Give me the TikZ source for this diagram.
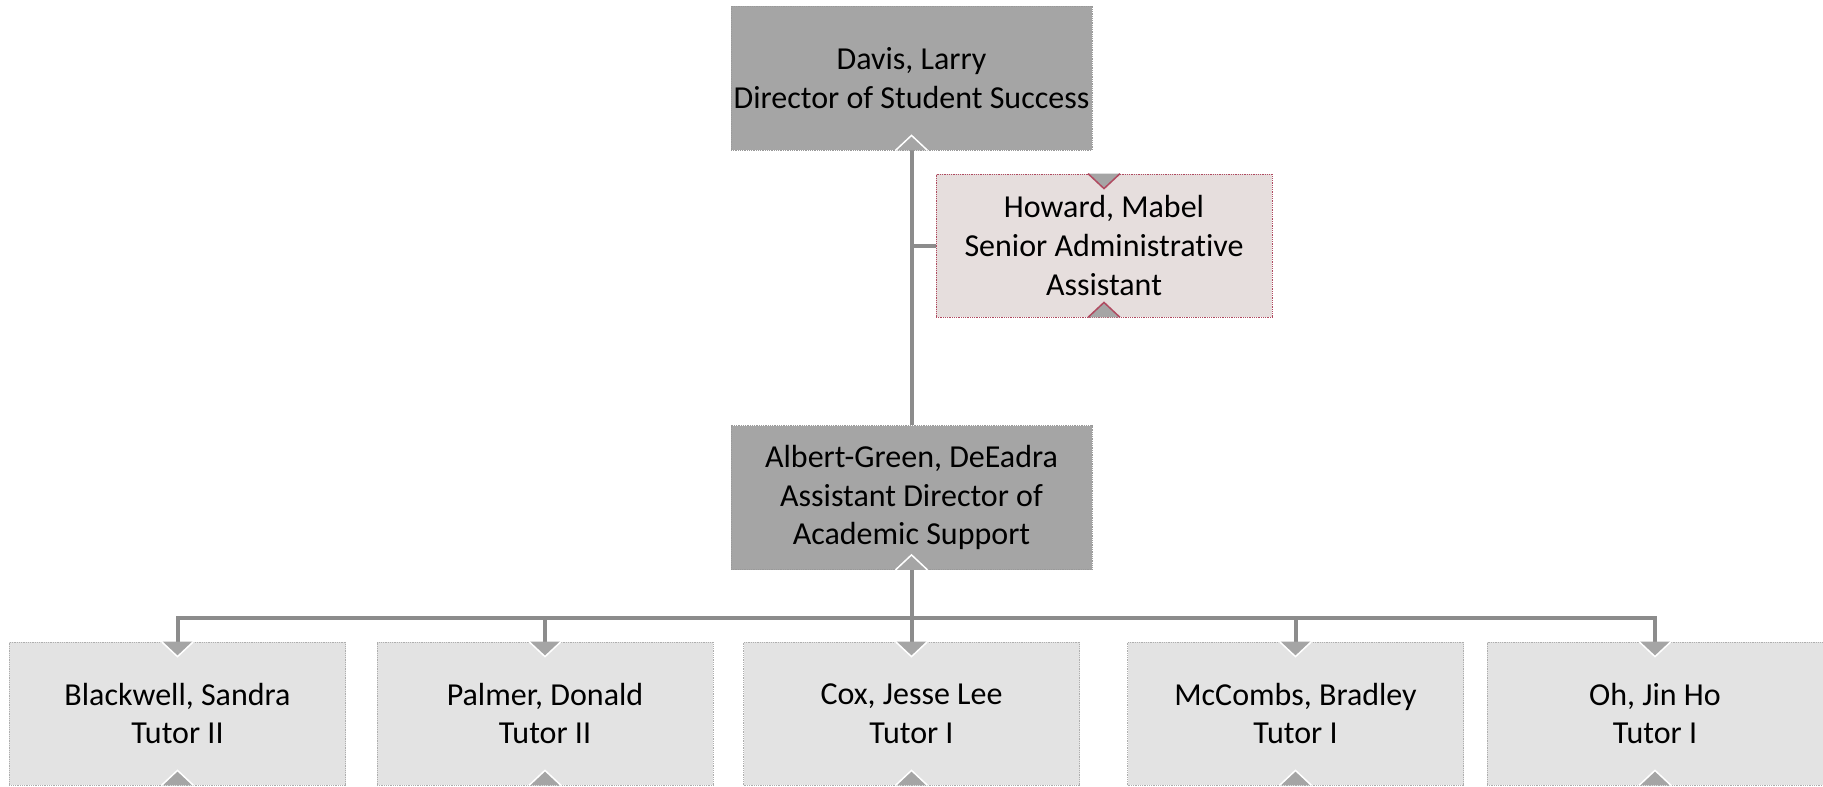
\documentclass[tikz,border=0pt]{standalone}
\usepackage{fontspec}
\setmainfont[Ligatures=NoCommon]{Carlito}
\definecolor{dark}{HTML}{A5A5A5}
\definecolor{light}{HTML}{E3E3E3}
\definecolor{pinkfill}{HTML}{E6DEDD}
\definecolor{pinkline}{HTML}{B04A60}
\definecolor{lineg}{HTML}{8C8C8C}
\definecolor{bordg}{HTML}{9A9A9A}
\newcommand\mytopnotch[2]{%
  \fill[dark] ([xshift=-15bp]#1.north) -- ([xshift=15bp]#1.north) -- ([yshift=-15bp]#1.north) -- cycle;
  \draw[#2, line width=1.5bp] ([xshift=-16bp]#1.north) -- ([yshift=-15bp]#1.north) -- ([xshift=16bp]#1.north);}
\newcommand\mybotnotch[2]{%
  \fill[dark] ([xshift=-15bp]#1.south) -- ([xshift=15bp]#1.south) -- ([yshift=15bp]#1.south) -- cycle;
  \draw[#2, line width=1.5bp] ([xshift=-16bp]#1.south) -- ([yshift=15bp]#1.south) -- ([xshift=16bp]#1.south);}
\begin{document}
\begin{tikzpicture}[x=1bp,y=-1bp,
  box/.style={align=center, inner sep=0pt, line width=0.8bp, densely dotted,
    font=\fontsize{32bp}{38.8bp}\selectfont},
  topbox/.style={box, draw=bordg, fill=dark, minimum width=361bp, minimum height=144bp},
  asst/.style={box, draw=pinkline, fill=pinkfill, minimum width=336bp, minimum height=143bp},
  tutor/.style={box, draw=bordg!80, fill=light, minimum width=336bp, minimum height=143bp},
  conn/.style={draw=lineg, line width=4bp, solid}]
\useasboundingbox (0,0) rectangle (1823,787);
\node[topbox] (davis) at (911.5,78) {Davis, Larry\\Director of Student Success};
\node[asst] (howard) at (1104,245.5) {Howard, Mabel\\Senior Administrative\\Assistant};
\node[topbox] (albert) at (911.5,497.5) {Albert-Green, DeEadra\\Assistant Director of\\Academic Support};
\node[tutor] (t1) at (177.5,713.5) {Blackwell, Sandra\\Tutor II};
\node[tutor] (t2) at (545,713.5) {Palmer, Donald\\Tutor II};
\node[tutor] (t3) at (911.5,713.5) {Cox, Jesse Lee\\Tutor I};
\node[tutor] (t4) at (1295.5,713.5) {McCombs, Bradley\\Tutor I};
\node[tutor] (t5) at (1655,713.5) {Oh, Jin Ho\\Tutor I};
\coordinate (bus) at (0,618);
\draw[conn] (davis.south) -- (albert.north);
\draw[conn] (howard.west) -- (howard.west -| davis.south);
\draw[conn] (albert.south) -- (albert.south |- bus);
\draw[conn] (t1.north) -- (t1.north |- bus) -- (t5.north |- bus) -- (t5.north);
\draw[conn] (t2.north) -- (t2.north |- bus);
\draw[conn] (t3.north) -- (t3.north |- bus);
\draw[conn] (t4.north) -- (t4.north |- bus);
\mybotnotch{davis}{white}
\mybotnotch{albert}{white}
\mytopnotch{howard}{pinkline}
\mybotnotch{howard}{pinkline}
\foreach \t in {t1,t2,t3,t4,t5}{\mytopnotch{\t}{white}\mybotnotch{\t}{white}}
\end{tikzpicture}
\end{document}
